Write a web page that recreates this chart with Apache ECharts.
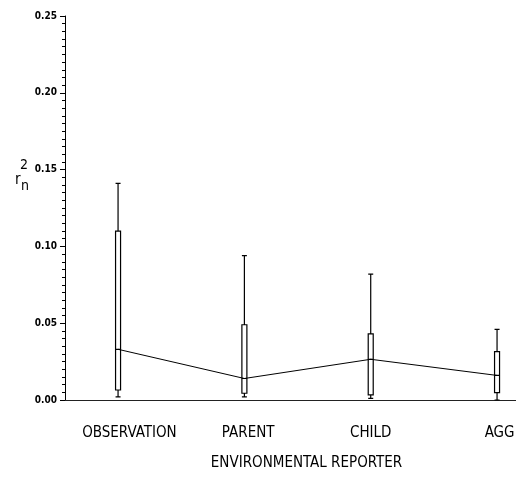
<!DOCTYPE html>
<html><head><meta charset="utf-8">
<script src="https://cdn.jsdelivr.net/npm/echarts@6/dist/echarts.min.js"></script>
<style>html,body{margin:0;padding:0;background:#fff}#c{width:516px;height:482px}</style>
</head><body><div id="c"></div>
<script>
// Categories and their positions on the x scale
const categories = ['OBSERVATION', 'PARENT', 'CHILD', 'AGG'];
const positions = [1, 2, 3, 4];
const labelPositions = [1.09, 2.03, 3.0, 4.02];
// Box plot statistics (r_n^2)
const whiskerLow = [0.002, 0.002, 0.001, 0.000];
const q1 = [0.0065, 0.0044, 0.0033, 0.0048];
const median = [0.033, 0.014, 0.0265, 0.016];
const q3 = [0.110, 0.049, 0.043, 0.0315];
const whiskerHigh = [0.141, 0.094, 0.082, 0.046];
// Y axis tick settings
const yMin = 0, yMax = 0.25, yInterval = 0.05;

const FONT = "'Liberation Sans Narrow', 'DejaVu Sans Condensed', 'Liberation Sans', sans-serif";
const chart = echarts.init(document.getElementById('c'), null, {renderer: 'canvas'});
const boxData = positions.map((p, i) => [p, whiskerLow[i], q1[i], median[i], q3[i], whiskerHigh[i]]);
const lineData = positions.map((p, i) => [p, median[i]]);

chart.setOption({
  backgroundColor: '#fff',
  animation: false,
  title: [
    {text: '2', left: 20, top: 158, padding: 0, textStyle: {fontSize: 14, fontWeight: 'normal', color: '#000', fontFamily: FONT}},
    {text: 'r', left: 15, top: 173, padding: 0, textStyle: {fontSize: 15, fontWeight: 'normal', color: '#000', fontFamily: FONT}},
    {text: 'n', left: 21, top: 179, padding: 0, textStyle: {fontSize: 14, fontWeight: 'normal', color: '#000', fontFamily: FONT}}
  ],
  grid: {left: 65, right: 0, top: 16, bottom: 82, containLabel: false, outerBoundsMode: 'none'},
  xAxis: {
    type: 'value', min: 0.58, max: 4.15, offset: 4,
    axisLine: {show: true, lineStyle: {color: '#222', width: 1}},
    axisTick: {show: false},
    splitLine: {show: false},
    axisLabel: {
      customValues: labelPositions,
      formatter: v => categories[Math.round(v) - 1] || '',
      margin: 22, fontSize: 15, color: '#000', fontFamily: FONT, hideOverlap: false
    },
    name: 'ENVIRONMENTAL REPORTER', nameLocation: 'middle', nameGap: 52,
    nameTextStyle: {fontSize: 15, color: '#000', fontFamily: FONT, padding: [0, 0, 0, 32]}
  },
  yAxis: {
    type: 'value', min: yMin, max: yMax, interval: yInterval,
    axisLine: {show: true, lineStyle: {color: '#000', width: 1}},
    axisTick: {show: true, length: 5, lineStyle: {color: '#000'}},
    minorTick: {show: true, splitNumber: 10, length: 3, lineStyle: {color: '#000'}},
    splitLine: {show: false},
    minorSplitLine: {show: false},
    axisLabel: {formatter: v => v.toFixed(2), fontSize: 10, fontWeight: 'bold', color: '#000', margin: 8, fontFamily: FONT}
  },
  series: [
    {
      type: 'boxplot', data: boxData, boxWidth: [5, 5],
      itemStyle: {color: '#fff', borderColor: '#000', borderWidth: 1.2},
      z: 2
    },
    {
      type: 'line', data: lineData, symbol: 'none',
      lineStyle: {color: '#000', width: 1}, z: 3
    }
  ]
});
</script></body></html>
